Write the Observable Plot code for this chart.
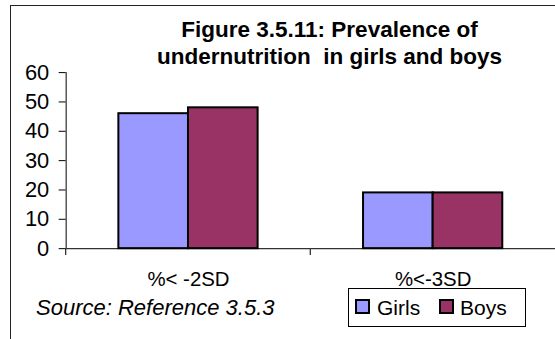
<!DOCTYPE html>
<html><head><meta charset="utf-8">
<script src="https://cdn.jsdelivr.net/npm/d3@7"></script>
<script src="https://cdn.jsdelivr.net/npm/@observablehq/plot@0.6"></script>
<style>
html,body{margin:0;padding:0;background:#fff;overflow:hidden;width:555px;height:339px;}
#wrap{position:relative;width:555px;height:339px;overflow:hidden;font-family:"Liberation Sans",Arial,sans-serif;color:#000;}
#frame{position:absolute;left:10px;top:5px;width:600px;height:400px;border-left:1.5px solid #222;border-top:1.5px solid #222;}
#chart{position:absolute;left:0;top:0;}
#title{position:absolute;left:0;top:16px;width:659px;text-align:center;font-weight:bold;font-size:22.5px;line-height:27px;white-space:pre;}
#source{position:absolute;left:36px;top:297px;font-style:italic;font-size:22px;line-height:22px;white-space:pre;}
#legend{position:absolute;left:348px;top:288px;width:176px;height:37px;border:1px solid #000;background:#fff;}
.item{position:absolute;top:0;height:37px;font-size:21px;line-height:37px;white-space:pre;}
.sw{position:absolute;top:10px;width:11px;height:11px;border:2px solid #000;}
</style></head>
<body>
<div id="wrap">
  <div id="frame"></div>
  <div id="chart"></div>
  <div id="title"></div>
  <div id="source"></div>
  <div id="legend"></div>
</div>
<script>
const titleLines = ["Figure 3.5.11: Prevalence of", "undernutrition  in girls and boys"];
const sourceText = "Source: Reference 3.5.3";
const categories = ["%< -2SD", "%<-3SD"];
const series = ["Girls", "Boys"];
const girls = [46, 19];
const boys = [48, 19];
const colors = ["#9999FF", "#993366"];
const yTicks = [0, 10, 20, 30, 40, 50, 60];

const rows = categories.flatMap((c, i) => [
  {category: c, sex: series[0], value: girls[i]},
  {category: c, sex: series[1], value: boys[i]}
]);

const plot = Plot.plot({
  width: 558,
  height: 339,
  marginLeft: 65,
  marginRight: 0,
  marginTop: 72.5,
  marginBottom: 89.5,
  style: {fontFamily: "Liberation Sans, Arial, sans-serif", fontSize: "20.5px", background: "transparent", color: "#000", overflow: "visible"},
  facet: {data: rows, x: "category", label: null},
  fx: {domain: categories, padding: 0, axis: "bottom", tickSize: 0, tickPadding: 23, label: null},
  x: {domain: series, paddingInner: 0, paddingOuter: 0.745, axis: null},
  y: {domain: [0, 60], ticks: yTicks, tickSize: 7, tickPadding: 10, line: true, label: null},
  color: {domain: series, range: colors},
  marks: [
    Plot.ruleY([0], {stroke: "#333", strokeWidth: 1.3}),
    Plot.barY(rows, {x: "sex", y: "value", fill: "sex", stroke: "#000", strokeWidth: 2})
  ]
});
document.getElementById("chart").appendChild(plot);

const svg = d3.select(plot);
// slightly larger y tick labels, as in the reference
svg.selectAll('g[aria-label^="y-axis"] text').style("font-size", "22px");

// category boundary ticks on the x axis, placed with the library's scales
const fxs = plot.scale("fx");
const ys = plot.scale("y");
const y0 = ys.apply(0);
categories.forEach(c => {
  const xx = fxs.apply(c);
  svg.append("line").attr("x1", xx).attr("x2", xx).attr("y1", y0).attr("y2", y0 + 7)
    .attr("stroke", "#333").attr("stroke-width", 1.3);
});

document.getElementById("title").textContent = titleLines.join("\n");
document.getElementById("source").textContent = sourceText;

const legend = document.getElementById("legend");
const swLeft = [6, 90];
const labLeft = [28, 111];
series.forEach((s, i) => {
  const sw = document.createElement("div");
  sw.className = "sw";
  sw.style.left = swLeft[i] + "px";
  sw.style.background = colors[i];
  legend.appendChild(sw);
  const lab = document.createElement("div");
  lab.className = "item";
  lab.style.left = labLeft[i] + "px";
  lab.textContent = s;
  legend.appendChild(lab);
});
</script>
</body></html>
